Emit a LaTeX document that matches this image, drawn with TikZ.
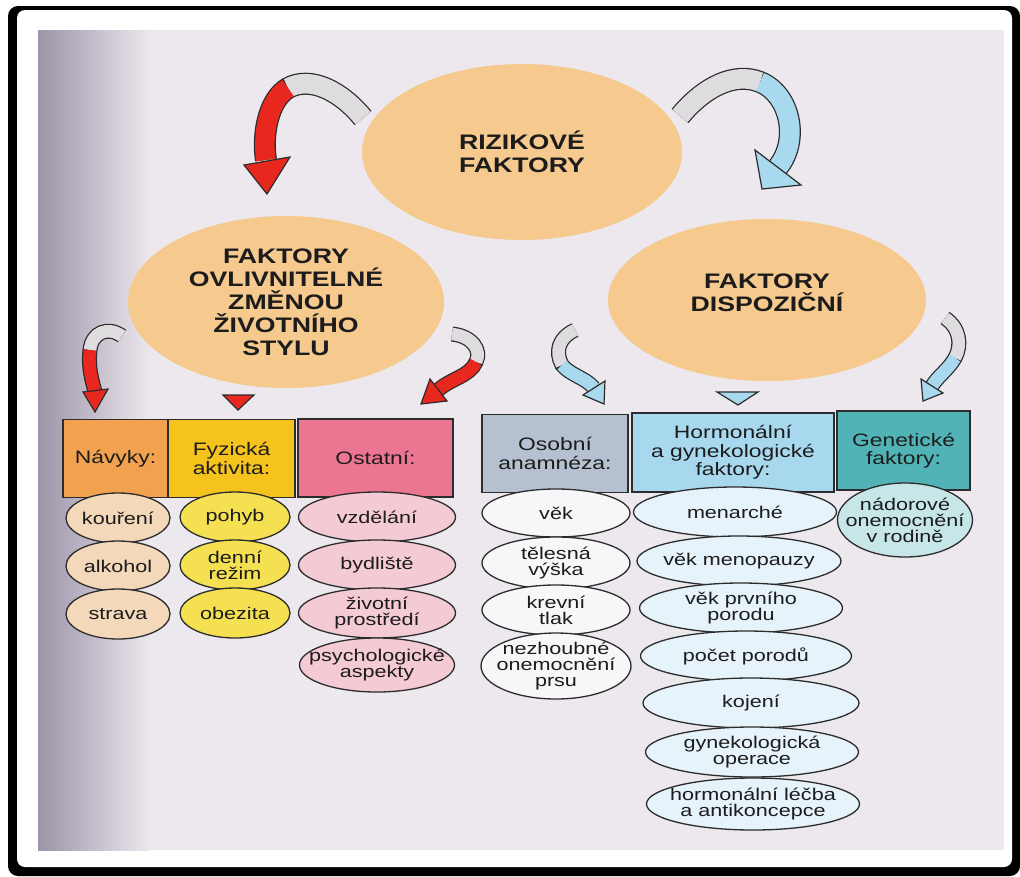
\documentclass[tikz,border=0pt]{standalone}
\usepackage{fontspec}
\setmainfont{Liberation Sans}[FakeStretch=1.27]
\usetikzlibrary{shapes.geometric,positioning}

\definecolor{bgcol}{HTML}{ECE8ED}
\definecolor{leftshade}{HTML}{9C94A8}
\definecolor{bigfill}{HTML}{F6C98E}
\definecolor{linegray}{HTML}{2C2C2C}
\definecolor{textdark}{HTML}{1C1C1C}
\definecolor{arrred}{HTML}{E8281E}
\definecolor{arrblue}{HTML}{A9D9EE}
\definecolor{arrgray}{HTML}{DEDCDE}
\definecolor{navykbox}{HTML}{F2A24E}
\definecolor{fyzbox}{HTML}{F6C21C}
\definecolor{ostbox}{HTML}{EC7692}
\definecolor{osobbox}{HTML}{B5C1D1}
\definecolor{hormbox}{HTML}{A8D8EE}
\definecolor{genbox}{HTML}{52B3B6}
\definecolor{navykell}{HTML}{F3D9BA}
\definecolor{fyzell}{HTML}{F5E052}
\definecolor{ostell}{HTML}{F4CAD4}
\definecolor{osobell}{HTML}{F7F7F9}
\definecolor{hormell}{HTML}{E6F3FA}
\definecolor{genell}{HTML}{C6E6E7}

\begin{document}
\begin{tikzpicture}[x=1pt, y=-1pt, on grid, node distance=48pt,
    bigell/.style={ellipse, fill=bigfill, inner sep=0pt, align=center, text=textdark,
      font=\fontsize{21}{23}\selectfont\bfseries},
    headbox/.style={draw=linegray, line width=1.8pt, inner sep=0pt, align=center,
      minimum height=78pt, text=textdark, font=\fontsize{18}{18.5}\selectfont},
    itemell/.style={ellipse, draw=linegray, line width=1.3pt, inner sep=0pt, minimum height=50pt},
    itemtext/.style={align=center, inner sep=0pt, text=textdark, font=\fontsize{17}{16}\selectfont},
    bandline/.style={draw=linegray, line cap=butt},
    headtip/.style={draw=linegray, line width=1.2pt, line join=miter}
  ]
  \useasboundingbox (0,0) rectangle (1020,876);

  % frame and page
  \fill[black, rounded corners=10pt] (8,6) rectangle (1020,876);
  \fill[white, rounded corners=8pt] (17,10) rectangle (1012,867);
  \fill[bgcol] (38,30) rectangle (1004,850);
  \shade[left color=leftshade, right color=bgcol] (38,30) rectangle (150,850);

  % main ellipses
  \node[bigell, minimum width=320pt, minimum height=176pt] (riz) at (522,152) {RIZIKOVÉ\\FAKTORY};
  \node[bigell, minimum width=316pt, minimum height=172pt] (ovl) at (286,302) {FAKTORY\\OVLIVNITELNÉ\\ZMĚNOU\\ŽIVOTNÍHO\\STYLU};
  \node[bigell, minimum width=318pt, minimum height=162pt, label={[bigell, yshift=7pt]center:FAKTORY\\DISPOZIČNÍ}] (disp) at (767,300) {};

  % arrow points
  \coordinate (a1t) at (363,118); \coordinate (a1m) at (288,88);  \coordinate (a1e) at (266,160);
  \coordinate (a2t) at (680,116); \coordinate (a2m) at (760,82);  \coordinate (a2e) at (778,167);
  \coordinate (b1t) at (122,336); \coordinate (b1m) at (90,350);  \coordinate (b1e) at (95,392);
  \coordinate (b2t) at (452,334); \coordinate (b2m) at (476,362); \coordinate (b2e) at (438,390);
  \coordinate (b3t) at (575,330); \coordinate (b3m) at (562,365); \coordinate (b3e) at (594,388);
  \coordinate (b4t) at (945,318); \coordinate (b4m) at (955,358); \coordinate (b4e) at (932,386);

  % big arrows
  \draw[bandline, line width=22pt] (a1t) .. controls (340,90) and (310,76) .. (a1m) .. controls (268,100) and (262,135) .. (a1e);
  \draw[arrgray, line width=19.5pt] (a1t) .. controls (340,90) and (310,76) .. (a1m);
  \draw[arrred, line width=19.5pt] (a1m) .. controls (268,100) and (262,135) .. (a1e);
  \filldraw[headtip, fill=arrred] (244,165) -- (267,194) -- (290,157) -- cycle;

  \draw[bandline, line width=22pt] (a2t) .. controls (705,86) and (735,72) .. (a2m) .. controls (790,94) and (800,140) .. (a2e);
  \draw[arrgray, line width=19.5pt] (a2t) .. controls (705,86) and (735,72) .. (a2m);
  \draw[arrblue, line width=19.5pt] (a2m) .. controls (790,94) and (800,140) .. (a2e);
  \filldraw[headtip, fill=arrblue] (755,150) -- (762,189) -- (801,185) -- cycle;

  % small arrows
  \draw[bandline, line width=15pt] (b1t) .. controls (108,326) and (92,332) .. (b1m) .. controls (88,368) and (92,380) .. (b1e);
  \draw[arrgray, line width=12.5pt] (b1t) .. controls (108,326) and (92,332) .. (b1m);
  \draw[arrred, line width=12.5pt] (b1m) .. controls (88,368) and (92,380) .. (b1e);
  \filldraw[headtip, fill=arrred] (83,392) -- (95,412) -- (108,389) -- cycle;

  \draw[bandline, line width=15pt] (b2t) .. controls (472,336) and (482,350) .. (b2m) .. controls (470,376) and (452,378) .. (b2e);
  \draw[arrgray, line width=12.5pt] (b2t) .. controls (472,336) and (482,350) .. (b2m);
  \draw[arrred, line width=12.5pt] (b2m) .. controls (470,376) and (452,378) .. (b2e);
  \filldraw[headtip, fill=arrred] (430,379) -- (421,404) -- (447,401) -- cycle;

  \draw[bandline, line width=15pt] (b3t) .. controls (558,338) and (555,352) .. (b3m) .. controls (570,375) and (586,378) .. (b3e);
  \draw[arrgray, line width=12.5pt] (b3t) .. controls (558,338) and (555,352) .. (b3m);
  \draw[arrblue, line width=12.5pt] (b3m) .. controls (570,375) and (586,378) .. (b3e);
  \filldraw[headtip, fill=arrblue] (583,395) -- (604,404) -- (605,381) -- cycle;

  \draw[bandline, line width=15pt] (b4t) .. controls (960,328) and (962,345) .. (b4m) .. controls (948,370) and (938,376) .. (b4e);
  \draw[arrgray, line width=12.5pt] (b4t) .. controls (960,328) and (962,345) .. (b4m);
  \draw[arrblue, line width=12.5pt] (b4m) .. controls (948,370) and (938,376) .. (b4e);
  \filldraw[headtip, fill=arrblue] (921,379) -- (923,401) -- (943,393) -- cycle;

  % triangles under the ellipses
  \filldraw[headtip, fill=arrred] (223,395) -- (254,395) -- (238,410) -- cycle;
  \filldraw[headtip, fill=arrblue] (717,392) -- (758,392) -- (738,405) -- cycle;

  % header boxes
  \node[headbox, fill=navykbox, minimum width=105pt] (navyky) at (115.5,458.5) {Návyky:};
  \node[headbox, fill=fyzbox, minimum width=127pt] (fyz) at (231.5,458.5) {Fyzická\\aktivita:};
  \node[headbox, fill=ostbox, minimum width=155pt] (ost) at (375.5,458) {Ostatní:};
  \node[headbox, fill=osobbox, minimum width=146pt] (osob) at (555,453.5) {Osobní\\anamnéza:};
  \node[headbox, fill=hormbox, minimum width=202pt, minimum height=79pt] (horm) at (733,452.5) {Hormonální\\a gynekologické\\faktory:};
  \node[headbox, fill=genbox, minimum width=133pt, minimum height=79pt] (gen) at (903.5,450.5) {Genetické\\faktory:};

  % Návyky
  \node[itemell, fill=navykell, minimum width=104pt, label={[itemtext]center:kouření}] (kour) at (118,518) {};
  \node[itemell, fill=navykell, minimum width=104pt, label={[itemtext]center:alkohol}, below=of kour] (alk) {};
  \node[itemell, fill=navykell, minimum width=104pt, label={[itemtext]center:strava}, below=of alk] (strava) {};

  % Fyzická aktivita
  \node[itemell, fill=fyzell, minimum width=110pt, label={[itemtext]center:pohyb}] (pohyb) at (235,517) {};
  \node[itemell, fill=fyzell, minimum width=110pt, label={[itemtext]center:denní\\režim}, below=of pohyb] (denni) {};
  \node[itemell, fill=fyzell, minimum width=110pt, label={[itemtext]center:obezita}, below=of denni] (obez) {};

  % Ostatní
  \node[itemell, fill=ostell, minimum width=157pt, label={[itemtext]center:vzdělání}] (vzdel) at (377,517) {};
  \node[itemell, fill=ostell, minimum width=157pt, label={[itemtext]center:bydliště}, below=of vzdel] (bydl) {};
  \node[itemell, fill=ostell, minimum width=157pt, label={[itemtext]center:životní\\prostředí}, below=of bydl] (zivot) {};
  \node[itemell, fill=ostell, minimum width=155pt, minimum height=54pt, label={[itemtext]center:psychologické\\aspekty}, below=52pt of zivot] (psych) {};

  % Osobní anamnéza
  \node[itemell, fill=osobell, minimum width=148pt, minimum height=48pt, label={[itemtext]center:věk}] (vek) at (556,513) {};
  \node[itemell, fill=osobell, minimum width=148pt, minimum height=52pt, label={[itemtext]center:tělesná\\výška}, below=50pt of vek] (teles) {};
  \node[itemell, fill=osobell, minimum width=148pt, label={[itemtext]center:krevní\\tlak}, below=47pt of teles] (krev) {};
  \node[itemell, fill=osobell, minimum width=150pt, minimum height=66pt, label={[itemtext]center:nezhoubné\\onemocnění\\prsu}, below=56pt of krev] (nezh) {};

  % Hormonální a gynekologické faktory
  \node[itemell, fill=hormell, minimum width=203pt, label={[itemtext]center:menarché}] (menar) at (735,512) {};
  \node[itemell, fill=hormell, minimum width=204pt, label={[itemtext]center:věk menopauzy}, below right=49pt and 4pt of menar] (vekmen) {};
  \node[itemell, fill=hormell, minimum width=203pt, label={[itemtext]center:věk prvního\\porodu}, below right=47pt and 2pt of vekmen] (prvni) {};
  \node[itemell, fill=hormell, minimum width=211pt, label={[itemtext]center:počet porodů}, below right=48pt and 5pt of prvni] (pocet) {};
  \node[itemell, fill=hormell, minimum width=216pt, label={[itemtext]center:kojení}, below right=47pt and 5pt of pocet] (kojeni) {};
  \node[itemell, fill=hormell, minimum width=213pt, label={[itemtext]center:gynekologická\\operace}, below right=49pt and 1pt of kojeni] (gynop) {};
  \node[itemell, fill=hormell, minimum width=213pt, minimum height=52pt, label={[itemtext]center:hormonální léčba\\a antikoncepce}, below right=52pt and 1pt of gynop] (hormlec) {};

  % Genetické faktory
  \node[itemell, fill=genell, minimum width=135pt, minimum height=74pt, label={[itemtext]center:nádorové\\onemocnění\\v rodině}] (nador) at (905,520) {};
\end{tikzpicture}
\end{document}
